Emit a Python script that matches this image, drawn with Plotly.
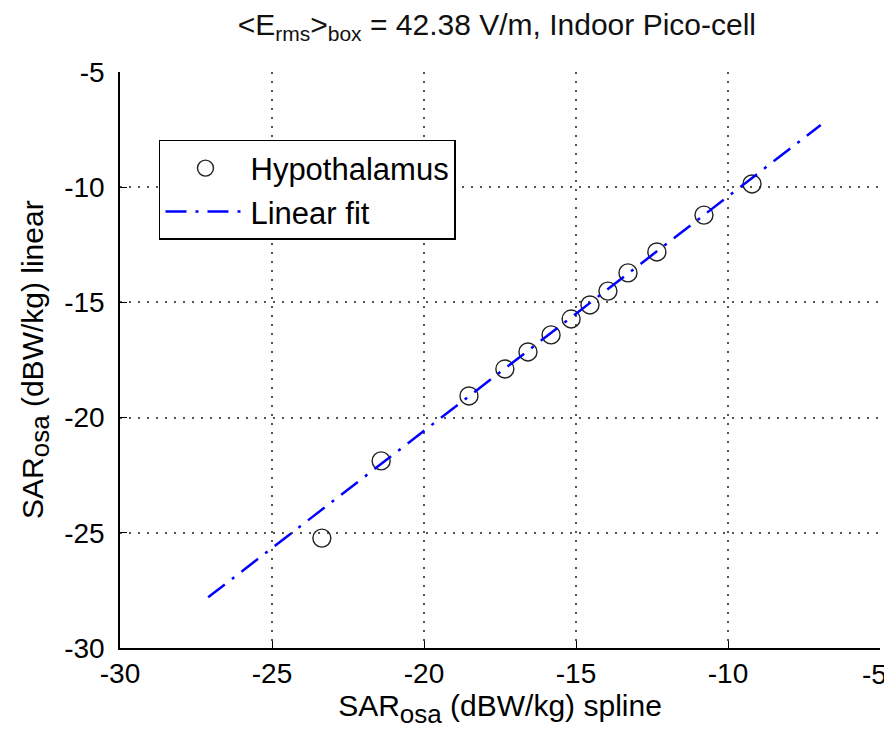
import plotly.graph_objects as go

# Data
spline_x = [-23.36, -21.41, -18.52, -17.34, -16.58, -15.82, -15.16, -14.54, -13.95, -13.29, -12.34, -10.79, -9.21]
linear_y = [-25.23, -21.88, -19.06, -17.89, -17.15, -16.41, -15.72, -15.11, -14.51, -13.72, -12.81, -11.21, -9.86]
fit_x = [-27.1, -6.95]
fit_y = [-27.8, -7.3]
tick_vals = [-30, -25, -20, -15, -10, -5]
tick_text = ["-30", "-25", "-20", "-15", "-10", "-5"]

FONT = "Liberation Sans, Arial, sans-serif"
W, H = 884, 732
ML, MR, MT, MB = 112, 12, 64, 92
PW, PH = W - ML - MR, H - MT - MB

fig = go.Figure()
fig.add_trace(go.Scatter(
    x=spline_x, y=linear_y, mode="markers", name="Hypothalamus",
    marker=dict(symbol="circle-open", size=18, color="#222222", line=dict(width=1.4, color="#222222")),
))
fig.add_trace(go.Scatter(
    x=fit_x, y=fit_y, mode="lines", name="Linear fit",
    line=dict(color="#0000ff", width=2.5, dash="21px,9px,3px,9px"),
))

axis_common = dict(
    tickvals=tick_vals,
    showline=True, linecolor="black", linewidth=1.5, mirror=False,
    ticks="inside", ticklen=7, tickcolor="black", tickwidth=1,
    showgrid=True, gridcolor="#555555", gridwidth=1.5, griddash="2px,7px",
    zeroline=False, automargin=False,
    tickfont=dict(family=FONT, size=28, color="black"),
)

# last x tick label would be clipped at the page edge; it is drawn as an annotation instead
x_tick_text = tick_text[:-1] + [""]

SUB = "<sub><span style='font-size:26px'>osa</span></sub>"

fig.update_layout(
    width=W, height=H,
    margin=dict(l=ML, r=MR, t=MT, b=MB),
    paper_bgcolor="white", plot_bgcolor="white",
    title=dict(
        text="&lt;E<sub>rms</sub>&gt;<sub>box</sub> = 42.38 V/m, Indoor Pico-cell",
        x=0.553, xanchor="center", y=0.978, yanchor="middle",
        font=dict(family=FONT, size=30, color="#111111"),
    ),
    xaxis=dict(range=[-30, -5], ticktext=x_tick_text,
               title=dict(text="SAR" + SUB + " (dBW/kg) spline", standoff=0,
                          font=dict(family=FONT, size=30, color="black")),
               **axis_common),
    yaxis=dict(range=[-30, -5], ticktext=tick_text, ticklabelstandoff=8, **axis_common),
    legend=dict(
        x=0.0513, y=0.882, xanchor="left", yanchor="top",
        bgcolor="white", bordercolor="black", borderwidth=1.5,
        font=dict(family=FONT, size=31, color="black"),
        itemwidth=80, tracegroupgap=0,
    ),
    showlegend=True,
    annotations=[
        dict(
            text="SAR" + SUB + " (dBW/kg) linear",
            xref="paper", yref="paper", x=(27 - ML) / PW, y=0.5,
            xanchor="center", yanchor="middle", textangle=-90, showarrow=False,
            font=dict(family=FONT, size=30, color="black"),
        ),
        dict(
            text=tick_text[-1],
            xref="paper", yref="paper", x=(881 - ML) / PW, y=-26 / PH,
            xanchor="right", yanchor="middle", showarrow=False,
            font=dict(family=FONT, size=28, color="black"),
        ),
    ],
)

fig.write_html("out.html")
